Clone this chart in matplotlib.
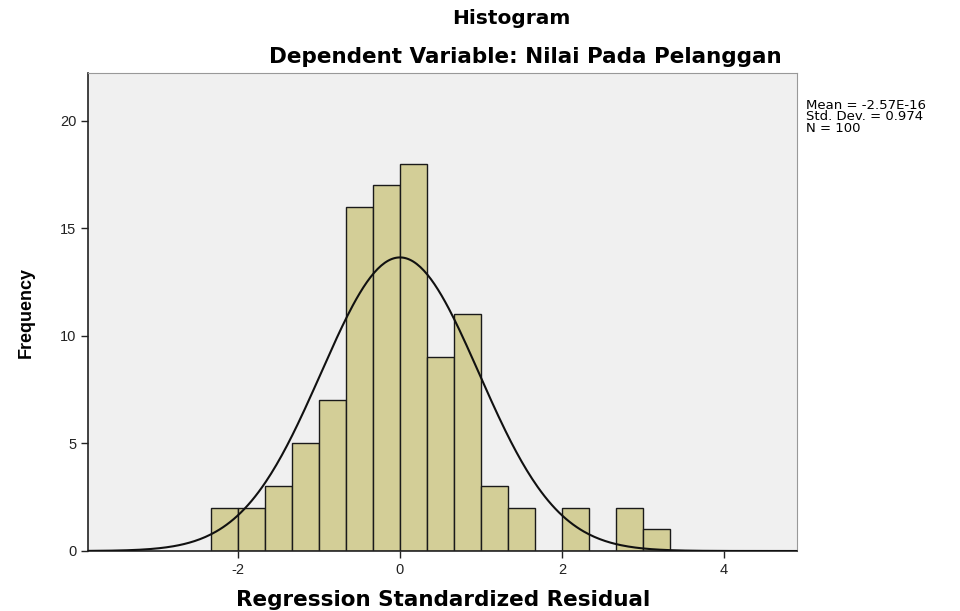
import numpy as np
import matplotlib.pyplot as plt

plt.rcParams['font.family'] = ['Liberation Sans', 'DejaVu Sans']
plt.rcParams['axes.unicode_minus'] = False

# histogram bins (left edges) and counts
bin_width = 1 / 3
bin_lefts = [-7/3, -2, -5/3, -4/3, -1, -2/3, -1/3, 0, 1/3, 2/3, 1, 4/3, 5/3, 2, 7/3, 8/3, 3]
counts = [2, 2, 3, 5, 7, 16, 17, 18, 9, 11, 3, 2, 0, 2, 0, 2, 1]

mean = -2.57e-16
std = 0.974
n = 100
stats_lines = ['Mean = -2.57E-16', 'Std. Dev. = 0.974', 'N = 100']

fig = plt.figure(figsize=(9.6, 6.11), dpi=100)
ax = fig.add_axes([88/960, 1 - 551/611, (797-88)/960, (551-73)/611])
ax.set_facecolor('#F0F0F0')

ax.bar(bin_lefts, counts, width=bin_width, align='edge',
       color='#D3CE97', edgecolor='#1a1a1a', linewidth=1.0, zorder=2)

xs = np.linspace(-3.85, 4.9, 400)
ys = n * bin_width * np.exp(-0.5 * ((xs - mean) / std) ** 2) / (std * np.sqrt(2 * np.pi))
ax.plot(xs, ys, color='#111111', linewidth=1.5, zorder=3)

ax.set_xlim(-3.85, 4.9)
ax.set_ylim(0, 22.23)
ax.set_xticks([-2, 0, 2, 4])
ax.set_yticks([0, 5, 10, 15, 20])
ax.tick_params(direction='out', length=5, width=1, labelsize=10.5, colors='#222222')

for side in ['top', 'right']:
    ax.spines[side].set_color('#999999')
    ax.spines[side].set_linewidth(0.8)
for side in ['left', 'bottom']:
    ax.spines[side].set_color('#222222')
    ax.spines[side].set_linewidth(1.2)

# wide bold text like the SPSS output
wide = ['DejaVu Sans']
fig.text(443/960, 1 - 600/611, 'Regression Standardized Residual', ha='center',
         va='center', fontsize=15.5, fontweight='bold', family=wide)
ax.set_ylabel('Frequency', fontsize=13, fontweight='bold', labelpad=18)

fig.text(511/960, 1 - 18/611, 'Histogram', ha='center', va='center',
         fontsize=14.5, fontweight='bold', family=wide)
fig.text(525/960, 1 - 57/611, 'Dependent Variable: Nilai Pada Pelanggan', ha='center',
         va='center', fontsize=15.5, fontweight='bold', family=wide)

fig.text(806/960, 1 - 99/611, '\n'.join(stats_lines), ha='left', va='top',
         fontsize=9.5, family=wide, linespacing=0.85)

fig.savefig('out.png', dpi=100)
